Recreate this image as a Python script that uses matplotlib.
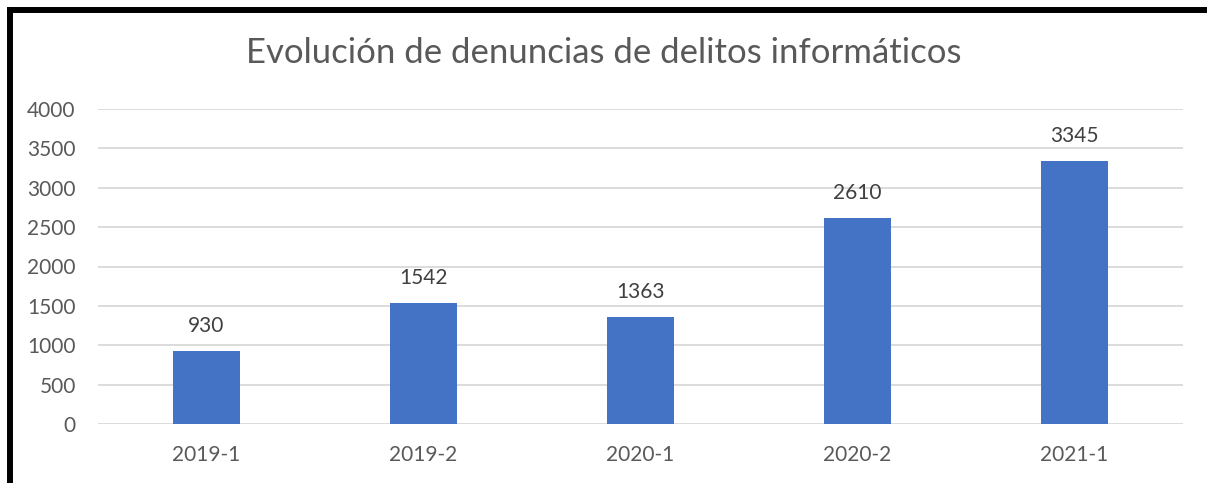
import matplotlib
matplotlib.use("Agg")
import matplotlib.pyplot as plt
from matplotlib.lines import Line2D

categories = ["2019-1", "2019-2", "2020-1", "2020-2", "2021-1"]
values = [930, 1542, 1363, 2610, 3345]
yticks = [0, 500, 1000, 1500, 2000, 2500, 3000, 3500, 4000]
title = "Evolución de denuncias de delitos informáticos"

W, H = 1207, 483
fig = plt.figure(figsize=(W / 100, H / 100), dpi=100)
fig.patch.set_facecolor("white")
plt.rcParams['font.family'] = ['Lato', 'DejaVu Sans']

left, right = 98 / W, 1183 / W
bottom, top = 1 - 424 / H, 1 - 109 / H
ax = fig.add_axes([left, bottom, right - left, top - bottom])

x = range(len(categories))
ax.bar(x, values, width=0.31, color="#4472C4", zorder=3)
ax.set_xlim(-0.5, len(categories) - 0.5)
ax.set_ylim(0, 4000)
ax.set_yticks(yticks)
ax.set_yticklabels([str(t) for t in yticks])
ax.set_xticks(list(x))
ax.set_xticklabels(categories)
ax.grid(axis="y", color="#D9D9D9", linewidth=1.3, zorder=0)
for s in ax.spines.values():
    s.set_visible(False)
ax.tick_params(axis="both", length=0, labelsize=15, labelcolor="#595959")
ax.tick_params(axis="y", pad=16)
ax.tick_params(axis="x", pad=15)

for i, v in enumerate(values):
    ax.annotate(str(v), (i, v), xytext=(0, 18), textcoords="offset points",
                ha="center", va="center", fontsize=15, color="#404040")

fig.text(0.5 + 0 / W, 1 - 53 / H, title, ha="center", va="center",
         fontsize=25, color="#595959")

# outer border (left and top)
fig.add_artist(Line2D([10 / W, 10 / W], [0, 1 - 7 / H], color="black",
                      linewidth=4.3, solid_capstyle="butt", transform=fig.transFigure))
fig.add_artist(Line2D([7 / W, 1], [1 - 10 / H, 1 - 10 / H], color="black",
                      linewidth=4.3, solid_capstyle="butt", transform=fig.transFigure))

fig.savefig("out.png", dpi=100)
